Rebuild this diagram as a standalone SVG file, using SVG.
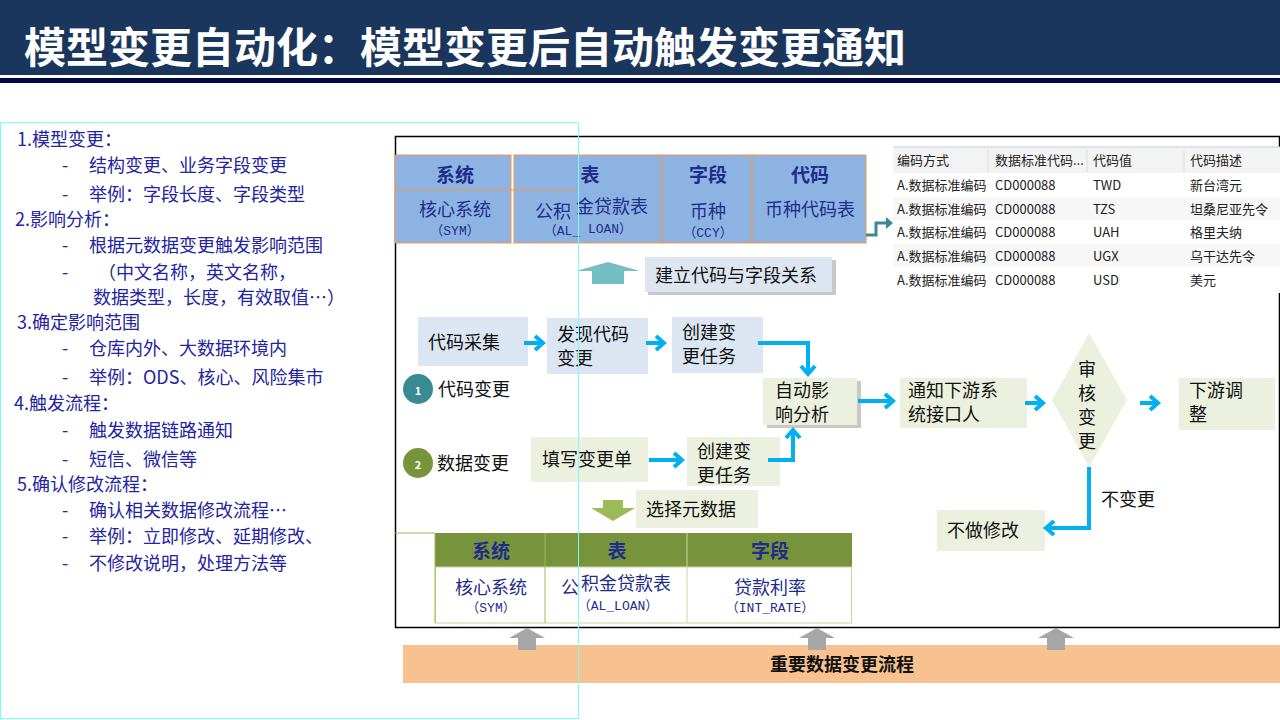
<svg xmlns="http://www.w3.org/2000/svg" width="1280" height="720" viewBox="0 0 1280 720">
<style>
text{font-family:"Noto Sans CJK SC","Liberation Sans",sans-serif}
.lt{font-size:18px;fill:#2424a0}
.hd{font-size:19px;font-weight:bold;fill:#1f2d8a;text-anchor:middle}
.bd{font-size:18px;fill:#1f2d8a;text-anchor:middle}
.sm{font-family:"Liberation Mono","Noto Sans CJK SC",monospace;font-size:13px;fill:#1f2d8a;text-anchor:middle}
.ft{font-size:18px;fill:#111}
.tb{font-size:13px;fill:#222}
.c{fill:none;stroke:#00b0f0;stroke-width:4;marker-end:url(#ah)}
.bl{fill:#dce6f2}
.gr{fill:#ebf1de}
</style>
<defs>
<marker id="ah" markerWidth="14" markerHeight="18" refX="10" refY="9" orient="auto" markerUnits="userSpaceOnUse" viewBox="0 0 14 18"><path d="M2,2 L10,9 L2,16" fill="none" stroke="#00b0f0" stroke-width="4"/></marker>
</defs>
<rect width="1280" height="720" fill="#fff"/>
<rect x="0" y="0" width="1280" height="75" fill="#1b365d"/>
<rect x="0" y="78" width="1280" height="5" fill="#000a4a"/>
<text x="24" y="63" font-size="42" font-weight="bold" fill="#fff">模型变更自动化：模型变更后自动触发变更通知</text>

<rect x="395.5" y="136.5" width="884" height="491" fill="none" stroke="#000" stroke-width="1.5"/>

<g id="blue-table">
<rect x="395" y="155" width="116" height="88" fill="#8db3e2" stroke="#f79646"/>
<rect x="514" y="155" width="148" height="88" fill="#8db3e2" stroke="#f79646"/>
<rect x="662" y="155" width="90" height="88" fill="#8db3e2" stroke="#f79646"/>
<rect x="752" y="155" width="114" height="88" fill="#8db3e2" stroke="#f79646"/>
<line x1="395" y1="190" x2="578" y2="190" stroke="#f79646"/>
<text x="455" y="182" class="hd">系统</text><text x="590" y="182" class="hd">表</text><text x="708" y="182" class="hd">字段</text><text x="810" y="182" class="hd">代码</text>
<text x="455" y="216" class="bd">核心系统</text><text x="455" y="235" class="sm">（SYM）</text>
<text x="553" y="218" class="bd">公积</text><text x="612" y="213" class="bd">金贷款表</text>
<text x="562" y="235" class="sm">（AL_</text><text x="610" y="233" class="sm">LOAN）</text>
<text x="708" y="218" class="bd">币种</text><text x="708" y="237" class="sm" font-size="11">（CCY）</text>
<text x="810" y="216" class="bd">币种代码表</text>
</g>

<g id="code-table">
<rect x="893" y="147" width="387" height="146" fill="#fff"/>
<rect x="893" y="147" width="387" height="26" fill="#f3f3f3"/>
<line x1="893" y1="147" x2="1280" y2="147" stroke="#b8d0ea"/>
<line x1="988" y1="150" x2="988" y2="172" stroke="#ddd"/><line x1="1087" y1="150" x2="1087" y2="172" stroke="#ddd"/><line x1="1184" y1="150" x2="1184" y2="172" stroke="#ddd"/>
<rect x="893" y="197" width="387" height="23" fill="#f7f7f7"/><rect x="893" y="244" width="387" height="23" fill="#f7f7f7"/>
<text x="897" y="165" class="tb">编码方式</text><text x="995" y="165" class="tb">数据标准代码...</text><text x="1093" y="165" class="tb">代码值</text><text x="1190" y="165" class="tb">代码描述</text>
<text x="897" y="190" class="tb">A.数据标准编码</text><text x="995" y="190" class="tb">CD000088</text><text x="1093" y="190" class="tb">TWD</text><text x="1190" y="190" class="tb">新台湾元</text>
<text x="897" y="214" class="tb">A.数据标准编码</text><text x="995" y="214" class="tb">CD000088</text><text x="1093" y="214" class="tb">TZS</text><text x="1190" y="214" class="tb">坦桑尼亚先令</text>
<text x="897" y="237" class="tb">A.数据标准编码</text><text x="995" y="237" class="tb">CD000088</text><text x="1093" y="237" class="tb">UAH</text><text x="1190" y="237" class="tb">格里夫纳</text>
<text x="897" y="261" class="tb">A.数据标准编码</text><text x="995" y="261" class="tb">CD000088</text><text x="1093" y="261" class="tb">UGX</text><text x="1190" y="261" class="tb">乌干达先令</text>
<text x="897" y="285" class="tb">A.数据标准编码</text><text x="995" y="285" class="tb">CD000088</text><text x="1093" y="285" class="tb">USD</text><text x="1190" y="285" class="tb">美元</text>
</g>

<g id="build-rel">
<polygon points="592,284 624,284 624,271 640,271 608,262 576,271 592,271" fill="#73bfc1"/>
<rect x="648" y="260" width="188" height="35" fill="#c8c8c8"/>
<rect x="645" y="257" width="187" height="35" fill="#dde6f0"/>
<text x="655" y="282" class="ft">建立代码与字段关系</text>
</g>

<g id="n1"><rect x="418" y="317" width="110" height="49" class="bl"/><text x="428" y="349" class="ft">代码采集</text></g>
<g id="n2"><rect x="547" y="318" width="101" height="56" class="bl"/><text x="557" y="341" class="ft" font-size="17">发现代码</text><text x="557" y="365" class="ft" font-size="17">变更</text></g>
<g id="n3"><rect x="672" y="317" width="91" height="56" class="bl"/><text x="682" y="339" class="ft" font-size="17">创建变</text><text x="682" y="363" class="ft" font-size="17">更任务</text></g>
<g id="c1"><circle cx="418" cy="389" r="15" fill="#3a8a94"/><text x="418" y="395" font-size="11" fill="#fff" text-anchor="middle" font-weight="bold">1</text><text x="438" y="396" class="ft">代码变更</text></g>
<g id="c2"><circle cx="418" cy="463" r="15" fill="#77933c"/><text x="418" y="469" font-size="11" fill="#fff" text-anchor="middle" font-weight="bold">2</text><text x="437" y="470" class="ft">数据变更</text></g>
<g id="n4"><rect x="531" y="437" width="117" height="45" class="gr"/><text x="542" y="466" class="ft">填写变更单</text></g>
<g id="n5"><rect x="687" y="437" width="93" height="49" class="gr"/><text x="697" y="458" class="ft" font-size="17">创建变</text><text x="697" y="482" class="ft" font-size="17">更任务</text></g>
<g id="n6"><rect x="767" y="381" width="94" height="47" fill="#c8c8c8"/><rect x="763" y="378" width="94" height="47" class="gr"/><text x="775" y="397" class="ft" font-size="17">自动影</text><text x="775" y="421" class="ft" font-size="17">响分析</text></g>
<g id="n7"><rect x="900" y="378" width="127" height="50" class="gr"/><text x="908" y="397" class="ft" font-size="17">通知下游系</text><text x="908" y="421" class="ft" font-size="17">统接口人</text></g>
<g id="n8"><polygon points="1089,333 1127,400 1089,467 1052,400" class="gr"/><g class="ft" text-anchor="middle" font-size="17"><text x="1087" y="376">审</text><text x="1087" y="400">核</text><text x="1087" y="424">变</text><text x="1087" y="448">更</text></g></g>
<g id="n9"><rect x="1179" y="378" width="96" height="52" class="gr"/><text x="1189" y="397" class="ft" font-size="17">下游调</text><text x="1189" y="421" class="ft" font-size="17">整</text></g>
<g id="n10"><rect x="937" y="510" width="108" height="41" class="gr"/><text x="947" y="537" class="ft">不做修改</text></g>
<text x="1101" y="506" class="ft">不变更</text>

<g id="connectors">
<path class="c" d="M524,343 H543"/>
<path class="c" d="M646,343 H664"/>
<path class="c" d="M758,343 H808 V374"/>
<path class="c" d="M649,460 H682"/>
<path class="c" d="M768,460 H793 V430"/>
<path class="c" d="M858,401 H893"/>
<path class="c" d="M1025,403 H1043"/>
<path class="c" d="M1140,403 H1158"/>
<path class="c" d="M1089,467 V528 H1046"/>
<path d="M866,235 H876 V223 H887" fill="none" stroke="#3a8a94" stroke-width="3"/>
<polygon points="886,217 893,223 886,229" fill="#3a8a94"/>
</g>

<g id="select-meta">
<polygon points="603,500 623,500 623,508 635,508 613,521 591,508 603,508" fill="#9bbb59"/>
<rect x="636" y="490" width="122" height="38" class="gr"/>
<text x="646" y="516" class="ft">选择元数据</text>
</g>

<g id="green-table">
<line x1="395" y1="533" x2="435" y2="533" stroke="#9bbb59"/>
<rect x="435" y="533" width="417" height="34" fill="#77933c"/>
<rect x="435.5" y="567" width="416" height="56" fill="#fff" stroke="#c4d79b"/>
<line x1="545" y1="533" x2="545" y2="623" stroke="#9bbb59"/><line x1="687" y1="533" x2="687" y2="623" stroke="#c4d79b"/>
<line x1="435" y1="533" x2="435" y2="623" stroke="#9bbb59"/>
<text x="491" y="558" class="hd">系统</text><text x="617" y="558" class="hd">表</text><text x="770" y="558" class="hd">字段</text>
<text x="491" y="594" class="bd">核心系统</text><text x="491" y="612" class="sm">（SYM）</text>
<text x="570" y="594" class="bd">公</text><text x="626" y="590" class="bd">积金贷款表</text><text x="618" y="610" class="sm" font-size="14">（AL_LOAN）</text>
<text x="770" y="594" class="bd">贷款利率</text><text x="770" y="612" class="sm">（INT_RATE）</text>
</g>

<g id="bottom">
<rect x="403" y="645" width="877" height="38" fill="#f8c290"/>
<text x="842" y="671" font-size="18" font-weight="bold" fill="#111" text-anchor="middle">重要数据变更流程</text>
<g fill="#a6a6a6">
<polygon points="518,650 536,650 536,638 545,638 527,628 509,638 518,638"/>
<polygon points="808,650 826,650 826,638 835,638 817,628 799,638 808,638"/>
<polygon points="1047,650 1065,650 1065,638 1074,638 1056,628 1038,638 1047,638"/>
</g>
</g>

<g id="left-text">
<rect x="0.5" y="122.5" width="578" height="596" fill="none" stroke="#7ff" stroke-width="1"/>
<text x="17" y="146" class="lt" font-size="16">1.模型变更：</text>
<text x="62" y="172" class="lt">-</text><text x="89" y="172" class="lt">结构变更、业务字段变更</text>
<text x="62" y="201" class="lt">-</text><text x="89" y="201" class="lt">举例：字段长度、字段类型</text>
<text x="15" y="226" class="lt" font-size="16">2.影响分析：</text>
<text x="62" y="252" class="lt">-</text><text x="89" y="252" class="lt">根据元数据变更触发影响范围</text>
<text x="62" y="279" class="lt">-</text><text x="98" y="279" class="lt">（中文名称，英文名称，</text>
<text x="93" y="304" class="lt">数据类型，长度，有效取值…）</text>
<text x="17" y="329" class="lt">3.确定影响范围</text>
<text x="62" y="355" class="lt">-</text><text x="89" y="355" class="lt">仓库内外、大数据环境内</text>
<text x="62" y="384" class="lt">-</text><text x="89" y="384" class="lt">举例：ODS、核心、风险集市</text>
<text x="14" y="410" class="lt">4.触发流程：</text>
<text x="62" y="437" class="lt">-</text><text x="89" y="437" class="lt">触发数据链路通知</text>
<text x="62" y="466" class="lt">-</text><text x="89" y="466" class="lt">短信、微信等</text>
<text x="17" y="491" class="lt">5.确认修改流程：</text>
<text x="62" y="517" class="lt">-</text><text x="89" y="517" class="lt">确认相关数据修改流程…</text>
<text x="62" y="543" class="lt">-</text><text x="89" y="543" class="lt">举例：立即修改、延期修改、</text>
<text x="62" y="570" class="lt">-</text><text x="89" y="570" class="lt">不修改说明，处理方法等</text>
</g>
</svg>
